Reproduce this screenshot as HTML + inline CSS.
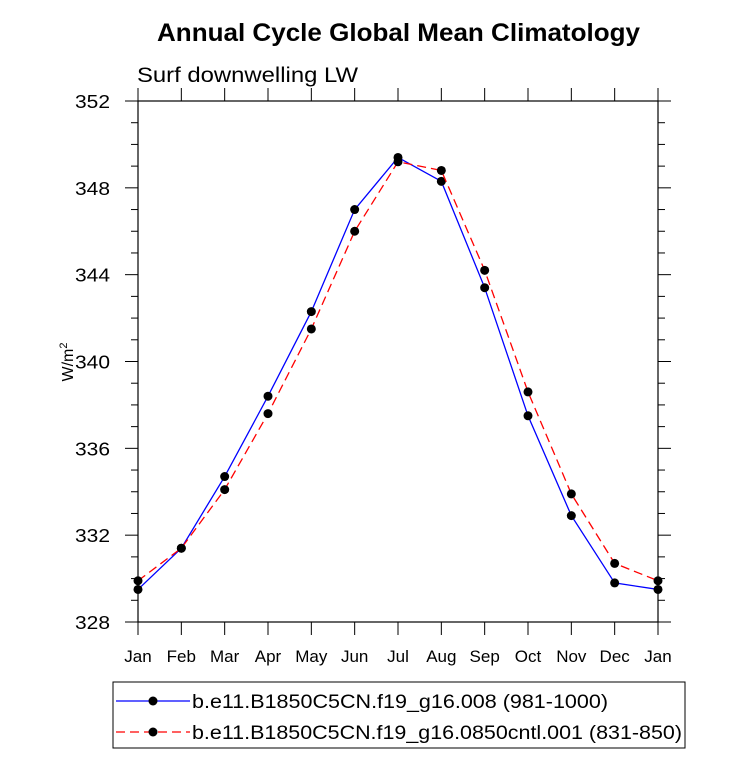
<!DOCTYPE html>
<html><head><meta charset="utf-8"><style>
body{margin:0;background:#fff;}
svg text{font-family:"Liberation Sans",sans-serif;}
</style></head><body>
<svg id="chart" width="733" height="772" xmlns="http://www.w3.org/2000/svg">
<text x="157" y="41" font-size="25" font-weight="bold" textLength="483" lengthAdjust="spacingAndGlyphs">Annual Cycle Global Mean Climatology</text>
<text x="137" y="82" font-size="21" textLength="221" lengthAdjust="spacingAndGlyphs">Surf downwelling LW</text>
<text transform="translate(73,362) rotate(-90)" text-anchor="middle" font-size="16">W/m<tspan dy="-6" font-size="11">2</tspan></text>
<g id="axes"></g>
<g id="series"></g>
<g>
<rect x="113" y="682" width="572" height="66" fill="none" stroke="#000" stroke-width="1"/>
<line x1="116" y1="701" x2="190" y2="701" stroke="#0000ff" stroke-width="1.3"/>
<circle cx="153" cy="701" r="4.5" fill="#000"/>
<text x="192" y="708" font-size="19" textLength="416" lengthAdjust="spacingAndGlyphs">b.e11.B1850C5CN.f19_g16.008 (981-1000)</text>
<line x1="116" y1="732" x2="190" y2="732" stroke="#ff0000" stroke-width="1.3" stroke-dasharray="9,5"/>
<circle cx="153" cy="732" r="4.5" fill="#000"/>
<text x="192" y="739" font-size="19" textLength="490" lengthAdjust="spacingAndGlyphs">b.e11.B1850C5CN.f19_g16.0850cntl.001 (831-850)</text>
</g>
</svg>
<script>
const months=["Jan","Feb","Mar","Apr","May","Jun","Jul","Aug","Sep","Oct","Nov","Dec","Jan"];
const blueValues=[329.5,331.4,334.7,338.4,342.3,347.0,349.4,348.3,343.4,337.5,332.9,329.8,329.5];
const redValues=[329.9,331.4,334.1,337.6,341.5,346.0,349.2,348.8,344.2,338.6,333.9,330.7,329.9];
const yTicks=[328,332,336,340,344,348,352];
const X0=138,X1=658,Y0=622,Y1=101,YMIN=328,YMAX=352;
const xs=i=>X0+(X1-X0)*i/(months.length-1);
const ys=v=>Y0-(v-YMIN)/(YMAX-YMIN)*(Y0-Y1);
const NS="http://www.w3.org/2000/svg";
function mk(t,a,p){const e=document.createElementNS(NS,t);for(const k in a)e.setAttribute(k,a[k]);p.appendChild(e);return e;}
const ax=document.getElementById('axes');
const fr=mk('rect',{x:X0,y:Y1,width:X1-X0,height:Y0-Y1,fill:'none',stroke:'#000','stroke-width':1.2},ax);


for(let v=YMIN;v<=YMAX;v++){
  const major=yTicks.includes(v);const L=major?13:7;const y=ys(v);
  mk('line',{x1:X0,y1:y,x2:X0-L,y2:y,stroke:'#000'},ax);
  mk('line',{x1:X1,y1:y,x2:X1+L,y2:y,stroke:'#000'},ax);
}
yTicks.forEach(v=>{
  const t=mk('text',{x:X0-28,y:ys(v)+7,'text-anchor':'end','font-size':18,textLength:35,lengthAdjust:'spacingAndGlyphs'},ax);
  
  
  t.textContent=v;
});
months.forEach((m,i)=>{
  const x=xs(i);
  mk('line',{x1:x,y1:Y0,x2:x,y2:Y0+13,stroke:'#000'},ax);
  mk('line',{x1:x,y1:Y1,x2:x,y2:Y1-13,stroke:'#000'},ax);
  const t=mk('text',{x:x,y:Y0+40,'text-anchor':'middle','font-size':17},ax);
  
  
  t.textContent=m;
});
const se=document.getElementById('series');
function draw(vals,color,dash,name){
  const pl=mk('polyline',{points:vals.map((v,i)=>xs(i)+','+ys(v)).join(' '),fill:'none',stroke:color,'stroke-width':1.3,'stroke-dasharray':dash},se);
  
  
  vals.forEach((v,i)=>{
    const c=mk('circle',{cx:xs(i),cy:ys(v),r:4.5,fill:'#000'},se);
    
    
  });
}
draw(blueValues,'#0000ff','none','blue-series');
draw(redValues,'#ff0000','9,5','red-series');
</script>
</body></html>
